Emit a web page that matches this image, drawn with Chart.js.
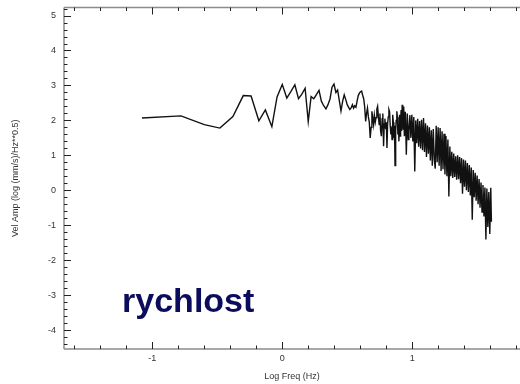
<!DOCTYPE html>
<html><head><meta charset="utf-8">
<script src="https://cdn.jsdelivr.net/npm/chart.js@4/dist/chart.umd.min.js"></script>
<style>html,body{margin:0;padding:0;background:#fff}#wrap{width:520px;height:384px}</style>
</head><body><div id="wrap"><canvas id="c" width="520" height="384"></canvas></div>
<script>
// Log frequency (Hz) of each spectral sample
const logFreq = [
-1.08,-0.78,-0.60,-0.48,-0.38,-0.30,-0.24,-0.18,-0.13,-0.08,-0.04,0.00,0.035,0.067,0.097,0.125,0.151,0.176,0.20,0.222,
0.243,0.263,0.283,0.301,0.319,0.336,0.352,0.368,0.383,0.398,0.413,0.426,0.44,0.452,0.465,0.477,0.49,0.50,0.51,0.52,
0.53,0.54,0.549,0.558,0.567,0.576,0.585,0.594,0.602,0.611,0.619,0.627,0.634,0.642,0.649,0.656,0.663,0.670,0.677,0.684,
0.690,0.697,0.703,0.709,0.716,0.722,0.728,0.734,0.740,0.746,0.752,0.757,0.763,0.769,0.774,0.780,0.785,0.790,0.796,0.801,
0.806,0.811,0.816,0.821,0.826,0.831,0.836,0.841,0.845,0.850,0.855,0.859,0.864,0.868,0.873,0.877,0.882,0.886,0.890,0.894,
0.898,0.903,0.907,0.911,0.915,0.919,0.923,0.927,0.931,0.935,
0.94,0.9475,0.955,0.9625,0.97,0.975,0.9825,0.99,0.9975,1.005,1.0125,1.02,1.0275,1.035,1.0425,1.05,1.0575,1.065,1.0725,1.08,
1.0875,1.095,1.1025,1.11,1.1175,1.125,1.1325,1.14,1.1475,1.155,1.1625,1.17,1.1775,1.185,1.1925,1.20,1.2075,1.215,1.2225,1.23,
1.2375,1.245,1.2525,1.26,1.2675,1.275,1.2825,1.29,1.2975,1.305,1.3125,1.32,1.3275,1.335,1.3425,1.35,1.3575,1.365,1.3725,1.38,
1.3875,1.395,1.4025,1.41,1.4175,1.425,1.4325,1.44,1.4475,1.455,1.4625,1.47,1.4775,1.485,1.4925,1.50,1.5075,1.515,1.5225,1.53,
1.5375,1.545,1.5525,1.56,1.5675,1.575,1.5825,1.59,1.5975,1.605,1.61
];
// Velocity amplitude (log (mm/s)/Hz**0.5) at each sample
const velAmp = [
2.07,2.13,1.88,1.78,2.11,2.71,2.70,1.99,2.30,1.82,2.67,3.03,2.64,2.83,3.02,2.62,2.75,2.92,1.97,2.68,
2.62,2.74,2.86,2.55,2.42,2.33,2.45,2.62,2.95,3.04,2.80,2.87,2.55,2.27,2.55,2.73,2.58,2.45,2.38,2.31,
2.36,2.45,2.35,2.42,2.38,2.55,2.71,2.78,2.82,2.84,2.72,2.62,2.40,1.97,2.20,2.35,2.10,1.95,1.50,1.80,
2.26,2.05,1.88,2.15,1.95,2.08,2.32,2.40,2.10,1.88,2.20,1.70,1.55,2.05,2.20,1.26,1.90,2.05,1.75,1.95,
1.21,1.90,2.10,2.31,2.25,1.85,1.60,1.80,1.45,2.16,1.95,1.50,1.85,0.71,1.70,2.00,2.26,2.10,1.60,1.88,
1.40,2.16,1.55,2.00,2.30,1.70,2.45,2.10,1.75,2.40,
1.55,2.25,1.02,2.20,1.45,1.70,2.15,1.50,2.16,1.40,2.10,0.54,2.00,1.35,2.05,1.25,1.98,1.20,2.02,1.15,
2.07,1.10,1.92,0.95,1.85,1.05,1.80,0.85,1.72,0.70,1.75,0.90,0.62,1.85,0.80,1.80,0.70,1.78,0.55,1.69,
0.60,1.62,0.45,1.55,0.40,1.45,-0.18,1.25,0.40,1.10,0.35,1.05,0.38,0.97,0.30,1.00,0.32,0.95,0.20,0.92,
-0.10,0.88,0.10,0.85,0.00,0.78,-0.05,0.72,-0.15,0.65,-0.84,0.58,-0.20,0.50,-0.30,0.42,-0.40,0.32,-0.50,0.22,
-0.62,0.15,-0.75,0.08,-1.41,0.05,-1.05,-0.05,-1.25,0.07,-0.90
];
const xTickValues = [-1, 0, 1];
const yTickValues = [-4, -3, -2, -1, 0, 1, 2, 3, 4, 5];
const xRange = [-1.68, 1.83];
const yRange = [-4.54, 5.23];
const xTitle = 'Log Freq (Hz)';
const yTitle = 'Vel Amp (log (mm/s)/Hz**0.5)';
const labelText = 'rychlost';
const labelAt = [-1.233, -3.47];

const FONT = "'Liberation Sans', Arial, sans-serif";

const framePlugin = {
  id: 'frame',
  afterDraw(chart) {
    const {ctx, chartArea: a, scales: {x, y}} = chart;
    ctx.save();
    ctx.strokeStyle = '#8c8c8c';
    ctx.lineWidth = 1.5;
    ctx.beginPath();
    ctx.moveTo(a.left, a.top); ctx.lineTo(a.right, a.top);
    ctx.moveTo(a.left, a.top); ctx.lineTo(a.left, a.bottom);
    ctx.moveTo(a.left, a.bottom); ctx.lineTo(a.right, a.bottom);
    ctx.stroke();
    ctx.strokeStyle = '#222';
    ctx.lineWidth = 1;
    ctx.beginPath();
    const step = 0.2;
    for (let k = Math.ceil(xRange[0] / step); k * step <= xRange[1]; k++) {
      const v = k * step;
      const major = k % 5 === 0;
      const len = major ? 7 : 3.5;
      const px = Math.round(x.getPixelForValue(v)) + 0.5;
      ctx.moveTo(px, a.bottom); ctx.lineTo(px, a.bottom - len);
      ctx.moveTo(px, a.top); ctx.lineTo(px, a.top + len);
    }
    for (let k = Math.ceil(yRange[0] / step); k * step <= yRange[1]; k++) {
      const v = k * step;
      const major = k % 5 === 0;
      const len = major ? 7 : 3.5;
      const py = Math.round(y.getPixelForValue(v)) + 0.5;
      ctx.moveTo(a.left, py); ctx.lineTo(a.left + len, py);
    }
    ctx.stroke();
    // annotation
    ctx.fillStyle = '#0c0c5c';
    ctx.font = "bold 34px " + FONT;
    ctx.textAlign = 'left';
    ctx.textBaseline = 'alphabetic';
    ctx.fillText(labelText, x.getPixelForValue(labelAt[0]), y.getPixelForValue(labelAt[1]));
    ctx.restore();
  }
};

new Chart(document.getElementById('c'), {
  type: 'scatter',
  data: {
    datasets: [{
      data: logFreq.map((v, i) => ({x: v, y: velAmp[i]})),
      showLine: true,
      borderColor: '#111',
      borderWidth: 1.4,
      pointRadius: 0,
      tension: 0,
      fill: false
    }]
  },
  options: {
    responsive: false,
    animation: false,
    devicePixelRatio: 1,
    layout: {padding: {left: 0, right: 0, top: 7.5, bottom: 0}},
    plugins: {legend: {display: false}, tooltip: {enabled: false}},
    scales: {
      x: {
        type: 'linear', min: xRange[0], max: xRange[1],
        border: {display: false},
        grid: {display: false, drawTicks: false},
        afterBuildTicks: s => { s.ticks = xTickValues.map(v => ({value: v})); },
        afterFit: s => { s.height = 35; s.paddingLeft = 0; s.paddingRight = 0; },
        ticks: {color: '#333', font: {family: FONT, size: 9}, padding: 4, maxRotation: 0},
        title: {display: true, text: xTitle, color: '#333', font: {family: FONT, size: 9}, padding: {top: 0, bottom: 2}}
      },
      y: {
        type: 'linear', min: yRange[0], max: yRange[1],
        border: {display: false},
        grid: {display: false, drawTicks: false},
        afterBuildTicks: s => { s.ticks = yTickValues.map(v => ({value: v})); },
        afterFit: s => { s.width = 64; s.paddingTop = 0; s.paddingBottom = 0; },
        ticks: {color: '#333', font: {family: FONT, size: 9}, padding: 8},
        title: {display: true, text: yTitle, color: '#333', font: {family: FONT, size: 9}, padding: {top: 10, bottom: 0}}
      }
    }
  },
  plugins: [framePlugin]
});
</script>
</body></html>
